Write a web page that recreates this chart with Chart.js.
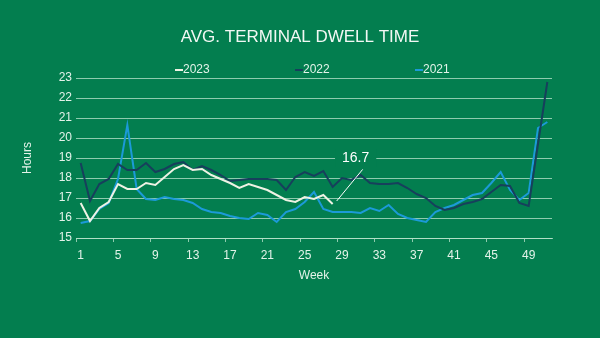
<!DOCTYPE html>
<html>
<head>
<meta charset="utf-8">
<script src="https://cdn.jsdelivr.net/npm/chart.js@4.4.1/dist/chart.umd.min.js"></script>
<style>
  html, body { margin: 0; padding: 0; background: #037e4f; }
  #wrap { width: 600px; height: 338px; position: relative; }
</style>
</head>
<body>
<div id="wrap"><canvas id="dwell"></canvas></div>
<script>
// week categories and dwell hours
const weeks = ['1','2','3','4','5','6','7','8','9','10','11','12','13','14','15','16','17','18','19','20',
  '21','22','23','24','25','26','27','28','29','30','31','32','33','34','35','36','37','38','39','40',
  '41','42','43','44','45','46','47','48','49','50','51'];
const dwell2023 = [16.75, 15.85, 16.5, 16.8, 17.7, 17.45, 17.45, 17.75, 17.65, 18.05, 18.45, 18.65, 18.4, 18.45,
  18.15, 17.95, 17.75, 17.5, 17.7, 17.55, 17.4, 17.15, 16.9, 16.8, 17.05, 16.95, 17.15, 16.7];
const dwell2022 = [18.75, 16.85, 17.7, 17.95, 18.7, 18.4, 18.4, 18.75, 18.3, 18.45, 18.7, 18.8, 18.4, 18.6,
  18.4, 18.15, 17.85, 17.9, 17.95, 17.95, 17.95, 17.9, 17.4, 18.05, 18.3, 18.1, 18.35, 17.55, 18.0, 17.9,
  18.15, 17.75, 17.7, 17.7, 17.75, 17.5, 17.2, 17.0, 16.6, 16.4, 16.5, 16.7, 16.8, 16.95, 17.3, 17.65,
  17.6, 16.75, 16.6, 19.7, 22.8];
const dwell2021 = [15.75, 15.85, 16.45, 16.75, 17.95, 20.65, 17.45, 16.95, 16.9, 17.05, 16.95, 16.9, 16.75, 16.45,
  16.3, 16.25, 16.1, 16.0, 15.95, 16.25, 16.15, 15.8, 16.3, 16.45, 16.8, 17.3, 16.45, 16.3, 16.3, 16.3,
  16.25, 16.5, 16.35, 16.65, 16.2, 16.0, 15.9, 15.8, 16.3, 16.5, 16.65, 16.9, 17.15, 17.25, 17.75, 18.3,
  17.4, 16.9, 17.25, 20.5, 20.8];
const yTicks = [15, 16, 17, 18, 19, 20, 21, 22, 23];

const BG = '#037e4f';
const TEXT = '#e3f3e9';
const GRID = 'rgba(190,230,205,0.75)';
const FONT = '"Liberation Sans", Arial, sans-serif';

// short line + label legend, centred over the plot
const lineLegend = {
  id: 'lineLegend',
  afterDraw(chart) {
    const { ctx, chartArea } = chart;
    const cx = (chartArea.left + chartArea.right) / 2;
    const ly = chartArea.top - 8;
    ctx.save();
    ctx.font = '12px ' + FONT;
    ctx.textBaseline = 'middle';
    chart.data.datasets.forEach((ds, i) => {
      const x0 = cx + (i - 1) * 120 - 19;
      ctx.strokeStyle = ds.borderColor;
      ctx.lineWidth = 2;
      ctx.beginPath(); ctx.moveTo(x0, ly); ctx.lineTo(x0 + 8, ly); ctx.stroke();
      ctx.fillStyle = TEXT;
      ctx.fillText(ds.label, x0 + 8, ly);
    });
    ctx.restore();
  }
};

// callout for the latest 2023 value
const callout = {
  id: 'callout',
  afterDatasetsDraw(chart) {
    const { ctx, scales: { x, y } } = chart;
    const last = dwell2023.length - 1;
    const px = x.getPixelForValue(last);
    const py = y.getPixelForValue(dwell2023[last]);
    ctx.save();
    ctx.strokeStyle = '#ffffff';
    ctx.lineWidth = 1;
    ctx.beginPath();
    ctx.moveTo(px + 4, py - 3);
    ctx.lineTo(px + 30, y.getPixelForValue(18.43));
    ctx.stroke();
    const label = dwell2023[last].toFixed(1);
    const ty = y.getPixelForValue(19);
    ctx.font = '14px ' + FONT;
    const w = ctx.measureText(label).width;
    ctx.fillStyle = BG;
    ctx.fillRect(px + 23 - w / 2 - 7, ty - 9, w + 14, 18);
    ctx.fillStyle = '#ffffff';
    ctx.textAlign = 'center';
    ctx.textBaseline = 'middle';
    ctx.fillText(label, px + 23, ty);
    ctx.restore();
  }
};

new Chart(document.getElementById('dwell'), {
  type: 'line',
  data: {
    labels: weeks,
    datasets: [
      { label: '2023', data: dwell2023, borderColor: '#eef2e4', borderWidth: 2, pointRadius: 0, tension: 0 },
      { label: '2022', data: dwell2022, borderColor: '#173f5c', borderWidth: 2, pointRadius: 0, tension: 0 },
      { label: '2021', data: dwell2021, borderColor: '#1c9ad8', borderWidth: 2, pointRadius: 0, tension: 0 },
    ]
  },
  options: {
    responsive: true, maintainAspectRatio: false, animation: false,
    layout: { padding: { top: 0, left: 0, right: 0, bottom: 50 } },
    plugins: {
      legend: { display: false },
      tooltip: { enabled: false },
      title: {
        display: true, text: 'AVG. TERMINAL DWELL TIME', color: '#f2f8f4',
        font: { family: FONT, size: 17, weight: 'normal' },
        padding: { top: 27, bottom: 30.6 }
      }
    },
    scales: {
      x: {
        offset: true,
        afterFit: s => { s.height = 50; },
        border: { display: true, color: GRID, width: 1 },
        grid: {
          offset: true, drawOnChartArea: false, drawTicks: true, tickLength: 4,
          color: c => c.index % 4 === 0 ? GRID : 'rgba(0,0,0,0)'
        },
        ticks: {
          autoSkip: false, maxRotation: 0, padding: 6, color: TEXT,
          font: { family: FONT, size: 12 },
          callback: (v, i) => i % 4 === 0 ? weeks[i] : ''
        },
        title: { display: true, text: 'Week', color: TEXT, font: { family: FONT, size: 12 }, padding: { top: 4, bottom: 5 } }
      },
      y: {
        min: yTicks[0], max: yTicks[yTicks.length - 1],
        afterFit: s => { s.width = 76; },
        afterBuildTicks: s => { s.ticks = yTicks.map(v => ({ value: v })); },
        border: { display: false },
        grid: { color: GRID, drawTicks: false },
        ticks: { padding: 4, color: TEXT, font: { family: FONT, size: 12 } },
        title: { display: true, text: 'Hours', color: TEXT, font: { family: FONT, size: 12 }, padding: { top: 20, bottom: 4 } }
      },
      // empty right-hand margin so the title stays centred on the page
      yPad: {
        position: 'right', min: yTicks[0], max: yTicks[yTicks.length - 1],
        afterFit: s => { s.width = 48; },
        border: { display: false },
        grid: { drawOnChartArea: false, drawTicks: false },
        ticks: { display: false }
      }
    }
  },
  plugins: [lineLegend, callout]
});
</script>
</body>
</html>
